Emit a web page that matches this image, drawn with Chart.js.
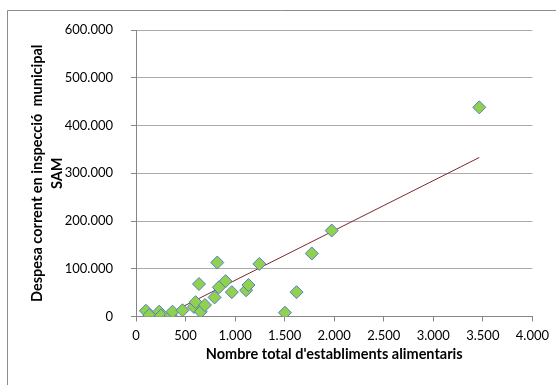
<!DOCTYPE html>
<html>
<head>
<meta charset="utf-8">
<script src="https://cdn.jsdelivr.net/npm/chart.js@4"></script>
<style>
  body { margin: 0; background: #fff; }
  #wrap { width: 556px; height: 385px; position: relative; }
</style>
</head>
<body>
<div id="wrap"><canvas id="dataChart" width="556" height="385"></canvas></div>
<script>
// establishments (x) vs current spending (y)
const establiments = [100, 134, 234, 251, 351, 368, 469, 585, 602, 653, 696, 636, 793, 820, 836, 904, 967, 1111, 1135, 1245, 1503, 1620, 1774, 1975, 3464];
const despesa = [12000, 3000, 10000, 2000, 3000, 10000, 13000, 20000, 30000, 10000, 24000, 68000, 40000, 113000, 61000, 74000, 51000, 55000, 66000, 110000, 8000, 51000, 132000, 180000, 438000];

// trend line ends as seen in the picture
const trendX = [274, 3464];
const trendY = [0, 333000];

const xTitle = "Nombre total d'establiments alimentaris";
const yTitle = ["Despesa corrent en inspecció  municipal", "SAM"];

function dotted(v) {
    return String(v).replace(/\B(?=(\d{3})+(?!\d))/g, '.');
}

const frame = {
    id: 'frame',
    beforeDraw(chart) {
        const ctx = chart.ctx;
        ctx.save();
        ctx.fillStyle = '#fff';
        ctx.fillRect(0, 0, chart.width, chart.height);
        ctx.strokeStyle = '#8c8c8c';
        ctx.lineWidth = 1;
        ctx.beginPath();
        ctx.moveTo(7.5, chart.height);
        ctx.lineTo(7.5, 10.5);
        ctx.lineTo(chart.width, 10.5);
        ctx.stroke();
        ctx.restore();
    }
};

const pts = establiments.map((x, i) => ({x: x, y: despesa[i]}));
const trend = trendX.map((x, i) => ({x: x, y: trendY[i]}));

const config = {
    type: 'scatter',
    data: {
        datasets: [
            {
                label: 'SAM',
                data: pts,
                pointStyle: 'rectRot',
                pointRadius: 6.5,
                backgroundColor: '#92d050',
                borderColor: '#4f81bd',
                borderWidth: 1,
                order: 1
            },
            {
                type: 'line',
                label: 'tendència',
                data: trend,
                borderColor: '#7b2a2a',
                borderWidth: 1,
                pointRadius: 0,
                fill: false,
                order: 2
            }
        ]
    },
    options: {
        responsive: false,
        animation: false,
        layout: { padding: { left: 0, right: 21, top: 30, bottom: 0 } },
        plugins: { legend: { display: false }, tooltip: { enabled: false } },
        scales: {
            x: {
                type: 'linear',
                min: 0,
                max: 4000,
                afterFit: (s) => { s.height = 68.5; },
                ticks: {
                    stepSize: 500,
                    color: '#000',
                    padding: 7,
                    maxRotation: 0,
                    font: { family: 'Lato', size: 13 },
                    callback: (v) => dotted(v)
                },
                grid: { drawOnChartArea: false, tickLength: 5, color: '#868686' },
                border: { color: '#868686' },
                title: {
                    display: true,
                    text: xTitle,
                    color: '#000',
                    font: { family: 'Lato', size: 14.5, weight: 'bold' },
                    padding: { top: 0, bottom: 22 }
                }
            },
            y: {
                min: 0,
                max: 600000,
                afterFit: (s) => { s.width = 136; },
                ticks: {
                    stepSize: 100000,
                    color: '#000',
                    padding: 18,
                    font: { family: 'Lato', size: 13 },
                    callback: (v) => dotted(v)
                },
                grid: { color: '#ababab', tickLength: 5, tickColor: '#868686' },
                border: { color: '#868686' },
                title: {
                    display: true,
                    text: yTitle,
                    color: '#000',
                    font: { family: 'Lato', size: 14.5, weight: 'bold', lineHeight: '20px' },
                    padding: { top: 27, bottom: 0 }
                }
            }
        }
    },
    plugins: [frame]
};

window.onload = function() {
    const ctx = document.getElementById('dataChart').getContext('2d');
    const myChart = new Chart(ctx, config);
};
</script>
</body>
</html>
